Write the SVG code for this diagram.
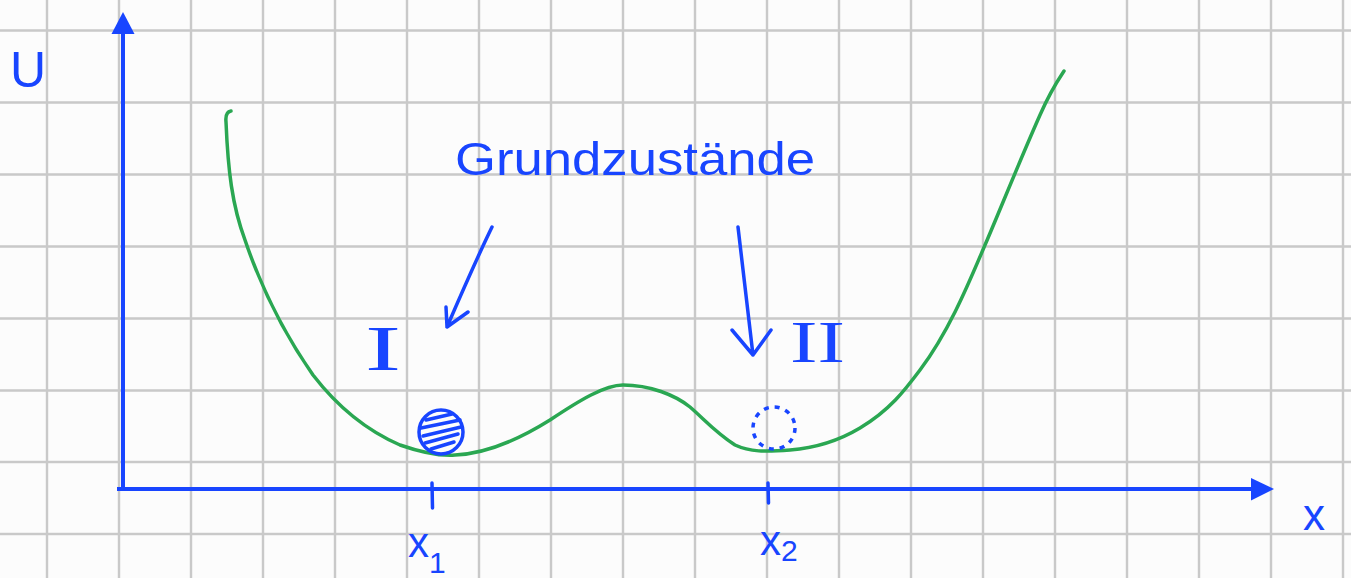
<svg xmlns="http://www.w3.org/2000/svg" width="1351" height="578" viewBox="0 0 1351 578">
<defs>
<style>
.grid line{stroke:#c9c9c9;stroke-width:2.4}
.ax{stroke:#1845ff;stroke-width:4;fill:none}
.pen{stroke:#1845ff;stroke-width:3.5;fill:none;stroke-linecap:round;stroke-linejoin:round}
.curve{stroke:#2aa752;stroke-width:3.5;fill:none;stroke-linecap:round}
.lbl{fill:#1845ff;font-family:"Liberation Sans",Arial,sans-serif}
.rom{fill:#1845ff;font-family:"Liberation Serif","Times New Roman",serif}
</style>
</defs>
<rect width="1351" height="578" fill="#fcfcfc"/>
<g class="grid">
<line x1="47" y1="0" x2="47" y2="578"/><line x1="119" y1="0" x2="119" y2="578"/><line x1="191" y1="0" x2="191" y2="578"/><line x1="263" y1="0" x2="263" y2="578"/><line x1="335" y1="0" x2="335" y2="578"/><line x1="407" y1="0" x2="407" y2="578"/><line x1="479" y1="0" x2="479" y2="578"/><line x1="551" y1="0" x2="551" y2="578"/><line x1="623" y1="0" x2="623" y2="578"/><line x1="695" y1="0" x2="695" y2="578"/><line x1="767" y1="0" x2="767" y2="578"/><line x1="839" y1="0" x2="839" y2="578"/><line x1="911" y1="0" x2="911" y2="578"/><line x1="983" y1="0" x2="983" y2="578"/><line x1="1055" y1="0" x2="1055" y2="578"/><line x1="1127" y1="0" x2="1127" y2="578"/><line x1="1199" y1="0" x2="1199" y2="578"/><line x1="1271" y1="0" x2="1271" y2="578"/><line x1="1343" y1="0" x2="1343" y2="578"/>
<line x1="0" y1="30.5" x2="1351" y2="30.5"/><line x1="0" y1="102.5" x2="1351" y2="102.5"/><line x1="0" y1="174.5" x2="1351" y2="174.5"/><line x1="0" y1="246.5" x2="1351" y2="246.5"/><line x1="0" y1="318.5" x2="1351" y2="318.5"/><line x1="0" y1="390.5" x2="1351" y2="390.5"/><line x1="0" y1="462" x2="1351" y2="462"/><line x1="0" y1="534" x2="1351" y2="534"/>
</g>
<g id="axes">
<line class="ax" x1="123" y1="489" x2="123" y2="30"/>
<polygon points="111.5,34 123,12 134.5,34" fill="#1845ff"/>
<line class="ax" x1="117" y1="489" x2="1254" y2="489"/>
<polygon points="1251,478 1274,489 1251,500.5" fill="#1845ff"/>
<path class="pen" d="M432,483 L432.5,508"/>
<path class="pen" d="M768,483 L768.5,503"/>
</g>
<g id="potential">
<path class="curve" d="M231,111 Q225,112 226,122 C228,170 232,205 245,240 C262,290 285,335 313,375 C340,410 370,432 400,445 C420,452 440,456 455,455 C480,454 510,445 550,420 C580,400 605,385 623,385 C650,385 675,395 690,407 C705,420 715,432 735,445 C750,452 765,452 790,450 C815,448 840,440 860,428 C890,410 905,390 920,370 C950,330 970,280 985,245 C1000,210 1020,160 1040,115 C1050,92 1058,80 1064,71"/>
</g>
<g id="ball1">
<circle cx="441" cy="432" r="22" fill="none" stroke="#1845ff" stroke-width="3.5"/>
<path class="pen" stroke-width="3" d="M426,420 L452,414 M421,428 L460,420 M423,436 L461,427 M425,443 L458,434 M431,449 L454,442"/>
</g>
<g id="ball2">
<circle cx="774" cy="428" r="21" fill="none" stroke="#1845ff" stroke-width="3.5" stroke-dasharray="5,6"/>
</g>
<g id="arrows">
<path class="pen" d="M492,227 Q475,262 447,327 M446,307 L447,327 L468,312"/>
<path class="pen" d="M738,227 L753,355 M732,330 L753,355 L771,330"/>
</g>
<g id="labels">
<text class="lbl" x="10" y="87" font-size="50">U</text>
<text class="lbl" x="455" y="175" font-size="46" textLength="360" lengthAdjust="spacingAndGlyphs">Grundzustände</text>
<text class="rom" x="365" y="370" font-size="64" textLength="36" lengthAdjust="spacingAndGlyphs">I</text>
<text class="rom" x="790" y="362" font-size="60" textLength="55" lengthAdjust="spacingAndGlyphs">II</text>
<text class="lbl" x="1303" y="530" font-size="44">x</text>
<text class="lbl" x="408" y="557" font-size="42">x<tspan font-size="30" dy="16">1</tspan></text>
<text class="lbl" x="760" y="555" font-size="42">x<tspan font-size="30" dy="6">2</tspan></text>
</g>
</svg>
